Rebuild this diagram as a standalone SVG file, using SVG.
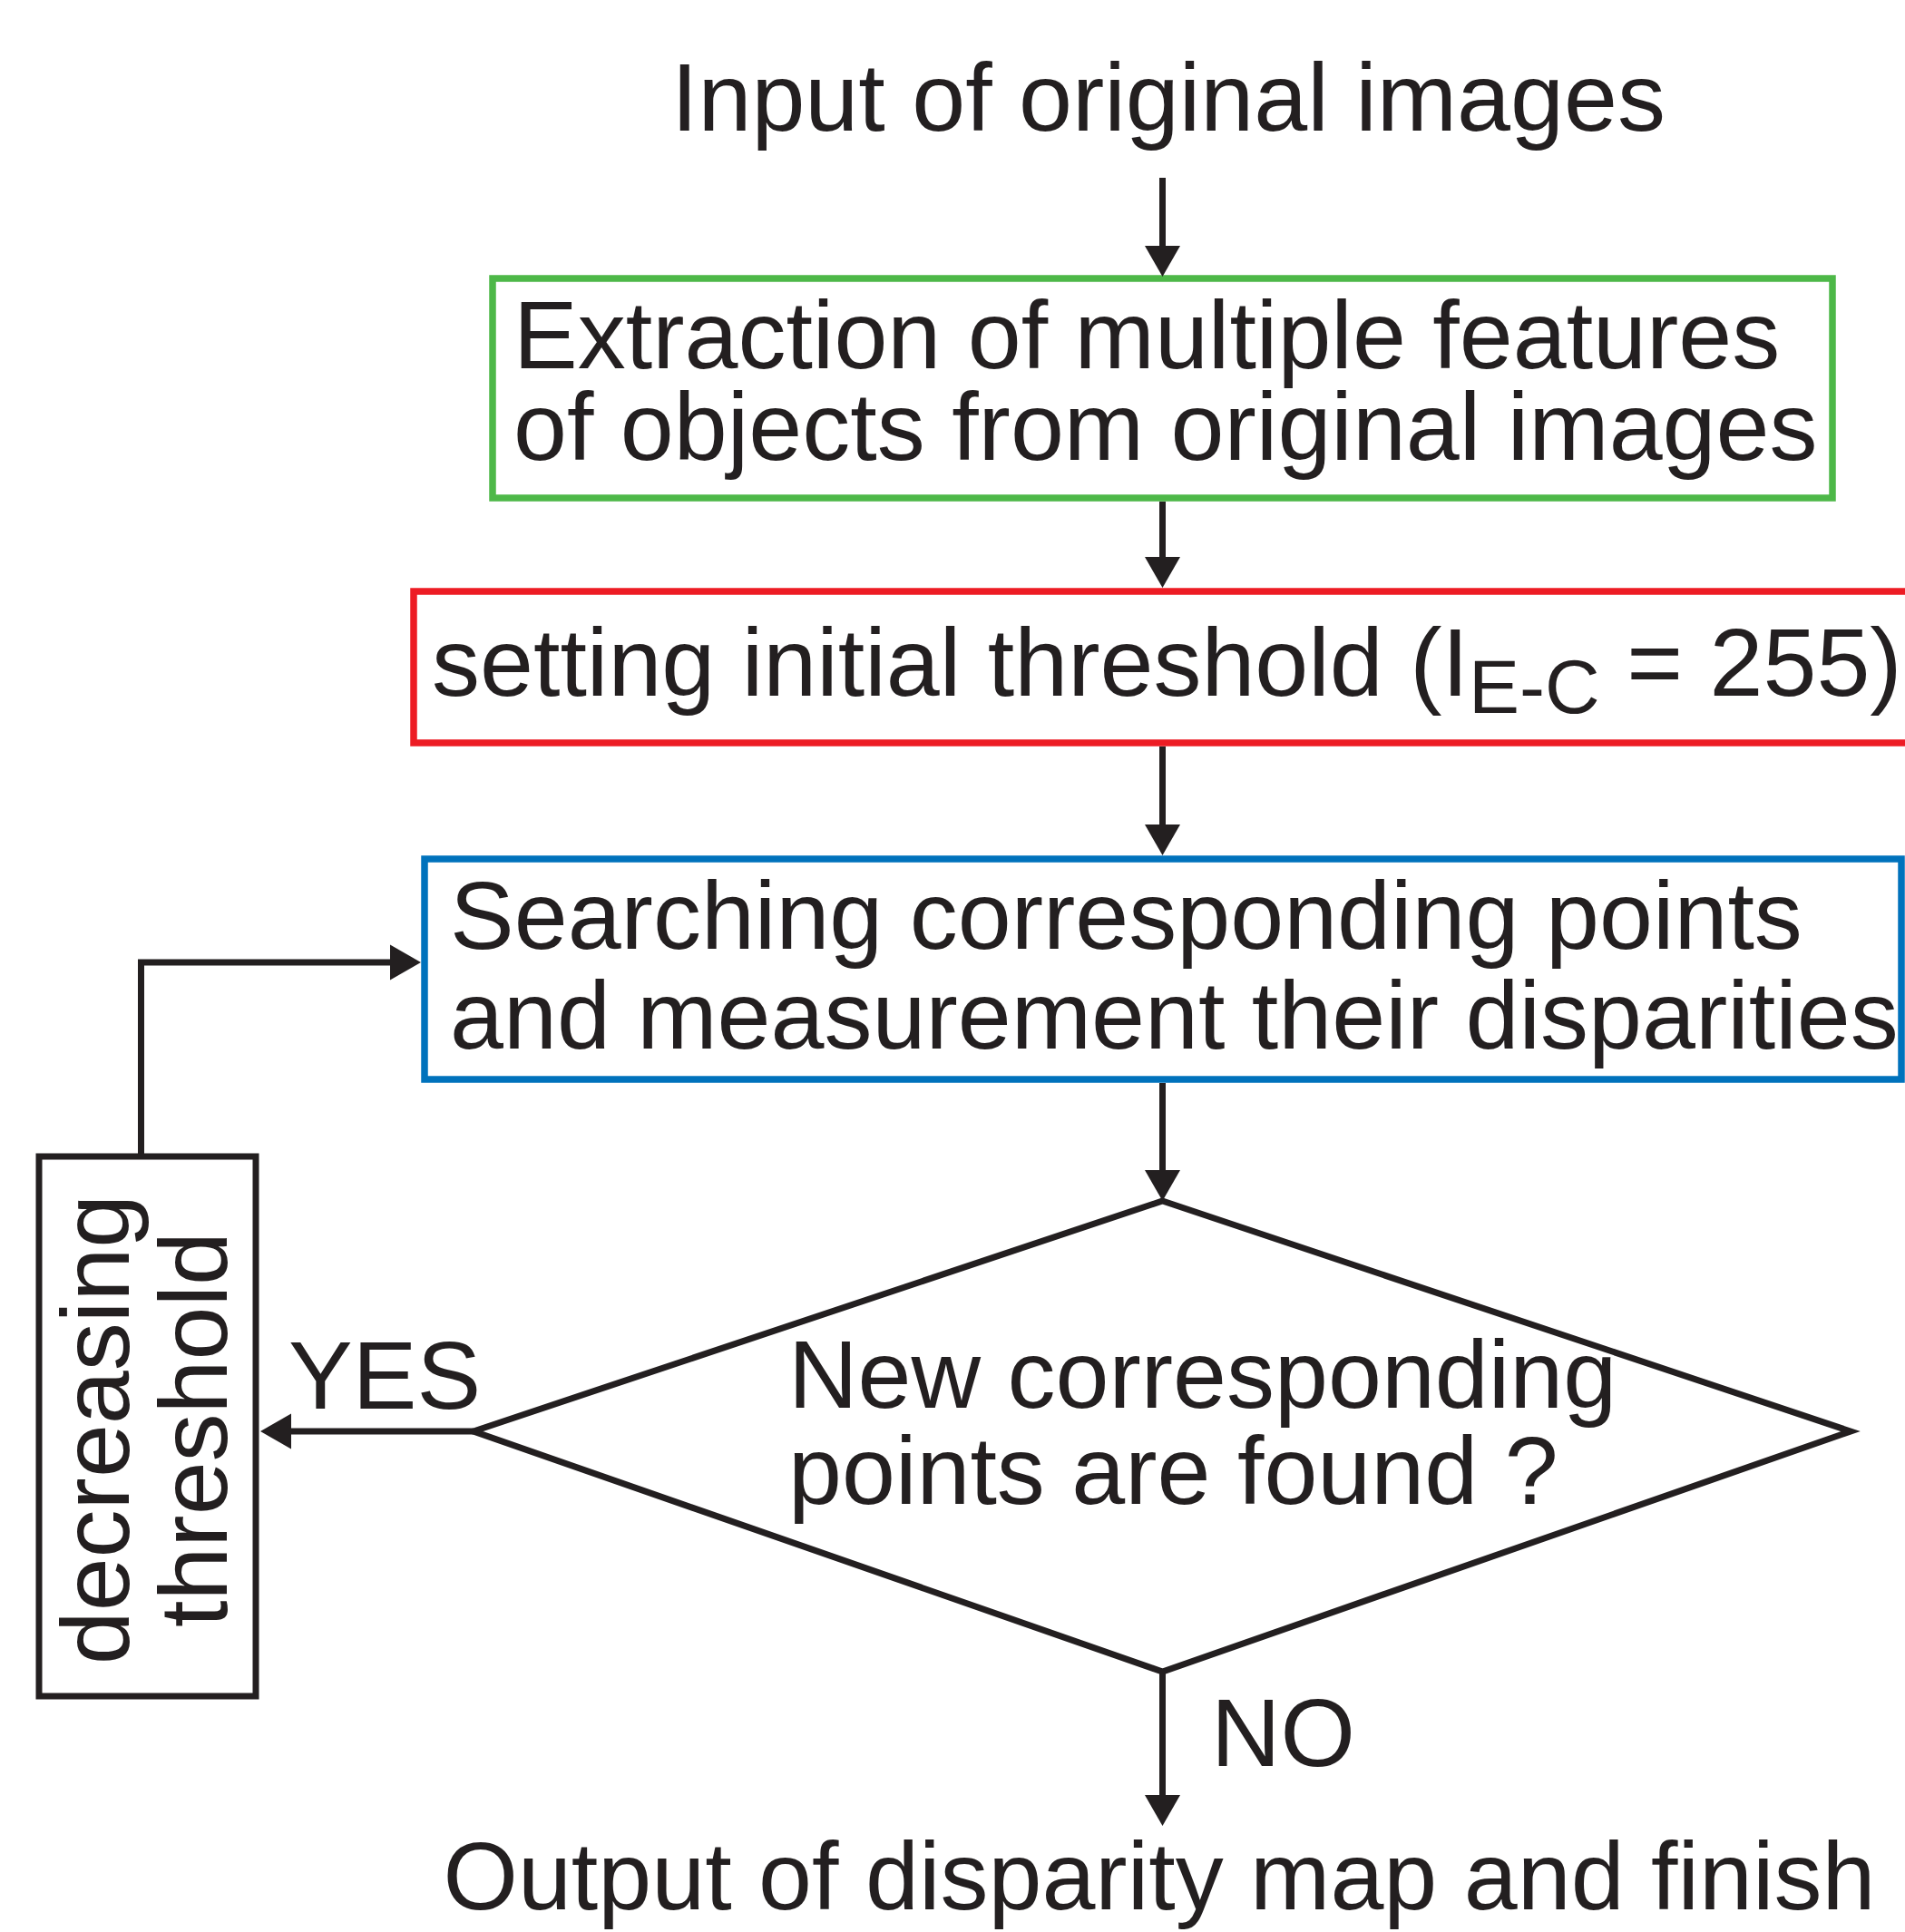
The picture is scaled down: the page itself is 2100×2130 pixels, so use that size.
<svg xmlns="http://www.w3.org/2000/svg" width="2100" height="2130" viewBox="0 0 2100 2130">
  <style>
    text { font-family: "Liberation Sans", Arial, sans-serif; font-size: 106px; fill: #231f20; }
    .box { fill: none; stroke-width: 7.5; }
    .edge { fill: none; stroke: #231f20; stroke-width: 7; }
  </style>
  <defs>
    <marker id="arrow" markerUnits="userSpaceOnUse" markerWidth="36" markerHeight="40" refX="0" refY="19.5" orient="auto" overflow="visible">
      <path d="M0,0 L34,19.5 L0,39 Z" fill="#231f20"/>
    </marker>
  </defs>

  <rect width="2100" height="2130" fill="#ffffff"/>

  <!-- start label -->
  <g id="input">
    <text x="1288" y="144" text-anchor="middle">Input of original images</text>
  </g>

  <!-- feature extraction -->
  <g id="extraction">
    <rect class="box" x="543" y="307" width="1477" height="242" stroke="#4db848"/>
    <text x="566" y="406">Extraction of multiple features</text>
    <text x="566" y="507">of objects from original images</text>
  </g>

  <!-- initial threshold -->
  <g id="threshold-init">
    <rect class="box" x="456" y="652" width="1700" height="167" stroke="#ed1c24"/>
    <text x="476" y="767">setting initial threshold (I<tspan font-size="84" dy="19">E-C</tspan><tspan dy="-19"> = 255)</tspan></text>
  </g>

  <!-- correspondence search -->
  <g id="search">
    <rect class="box" x="468" y="947" width="1628" height="243" stroke="#0072bc"/>
    <text x="496" y="1046">Searching corresponding points</text>
    <text x="496" y="1156">and measurement their disparities</text>
  </g>

  <!-- decision -->
  <g id="decision">
    <polygon class="edge" points="1281.5,1324 2040,1578 1281.5,1843 522,1578"/>
    <text x="869" y="1552">New corresponding</text>
    <text x="869" y="1658">points are found ?</text>
  </g>

  <!-- threshold step -->
  <g id="decrease">
    <rect class="edge" x="43" y="1275" width="239" height="595"/>
    <text transform="translate(142,1576) rotate(-90)" text-anchor="middle">decreasing</text>
    <text transform="translate(250,1576) rotate(-90)" text-anchor="middle">threshold</text>
  </g>

  <!-- end label -->
  <g id="output">
    <text x="1278" y="2105" text-anchor="middle">Output of disparity map and finish</text>
  </g>

  <!-- connectors -->
  <g id="connectors">
    <path class="edge" d="M1281.5,196 V271" marker-end="url(#arrow)"/>
    <path class="edge" d="M1281.5,553 V614" marker-end="url(#arrow)"/>
    <path class="edge" d="M1281.5,823 V909" marker-end="url(#arrow)"/>
    <path class="edge" d="M1281.5,1194 V1290" marker-end="url(#arrow)"/>
    <path class="edge" d="M1281.5,1843 V1979" marker-end="url(#arrow)"/>
    <path class="edge" d="M522,1578 H321" marker-end="url(#arrow)"/>
    <path class="edge" d="M155.5,1275 V1061 H430" marker-end="url(#arrow)"/>
    <text x="318" y="1553">YES</text>
    <text x="1335" y="1947">NO</text>
  </g>
</svg>
